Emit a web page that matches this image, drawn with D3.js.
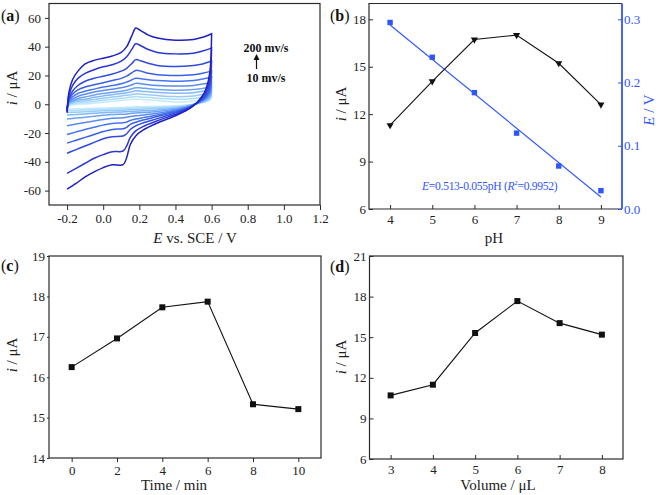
<!DOCTYPE html>
<html><head><meta charset="utf-8">
<script src="https://cdn.jsdelivr.net/npm/d3@7"></script>
<style>
html,body{margin:0;padding:0;background:#fff;}
svg{display:block;font-family:"Liberation Serif","Times New Roman",serif;}
</style></head>
<body>
<svg id="chart" width="661" height="495"></svg>
<script>
// ---------- DATA ----------
// (a) cyclic voltammograms at different scan rates
const scanRates = [10, 20, 40, 60, 80, 100, 120, 140, 160, 180, 200];
const cvForwardE = [-0.2, -0.19, -0.17, -0.14, -0.1, -0.05, 0, 0.05, 0.1, 0.13, 0.16, 0.18, 0.21, 0.25, 0.3, 0.4, 0.5, 0.55, 0.6];
const cvReverseE = [0.6, 0.59, 0.57, 0.55, 0.5, 0.45, 0.4, 0.3, 0.22, 0.18, 0.15, 0.13, 0.11, 0.05, 0, -0.05, -0.1, -0.15, -0.2];
const cvForward = [
  [-2, -1, -0.5, 0, 0.2, 0.8, 1.4, 2, 2.7, 3, 3.4, 3.6, 3.4, 3.1, 2.6, 1.6, 2.2, 3.5, 5],
  [-2.5, -0.5, 0.3, 1, 1.2, 2, 2.8, 3.4, 4.1, 4.5, 5, 5.3, 5.1, 4.7, 4.2, 3.4, 4, 5, 6.5],
  [-3, 0, 1, 2, 2.3, 3.3, 4.2, 5, 5.7, 6.2, 6.8, 7.2, 7, 6.6, 6, 5.3, 5.8, 6.8, 8],
  [-3, 0.5, 1.8, 3, 3.4, 4.8, 5.8, 6.6, 7.5, 8, 8.7, 9.3, 9.1, 8.7, 8.2, 7.6, 8, 9, 10],
  [-3.5, 1, 2.5, 4, 5, 6.5, 7.5, 8.3, 9.1, 9.8, 10.8, 11.5, 11.3, 10.8, 10.3, 9.8, 10.2, 11, 12],
  [-4, 1.5, 3.5, 5.5, 7, 8.5, 9.5, 10.5, 11.4, 12.3, 13.5, 14.5, 14.2, 13.5, 13, 12.6, 13, 14, 15],
  [-4, 2, 5, 7.5, 9, 10.5, 12, 13, 14.2, 15.5, 17, 18, 17.7, 17, 16.5, 16, 16.5, 17.5, 19],
  [-4.5, 3, 7, 10, 12, 13.5, 15, 16.5, 18, 19.5, 22, 23.5, 23, 21.5, 20.5, 20, 20.5, 21.5, 23],
  [-5, 4, 9, 13, 16, 18, 19.5, 21, 23, 25, 28.5, 31, 30, 28.5, 27, 26.3, 27, 28, 30],
  [-5, 6, 13, 18, 21.5, 24, 26, 27.5, 30, 33, 38.5, 42, 40.5, 38, 36, 35, 35.5, 37, 39],
  [-6, 8, 17, 23, 28, 30.5, 32, 33.5, 36, 40, 48, 53, 51, 48, 46, 44.5, 45, 46.5, 49]
];
const cvReverse = [
  [5, 3, 1.7, 1, 0, -0.7, -1.1, -1.5, -1.7, -1.8, -2, -2.1, -2.2, -2.4, -2.6, -2.8, -3, -3.2, -3.5],
  [6.5, 3.5, 2, 1.3, 0, -1, -1.6, -2.2, -2.5, -2.6, -2.8, -3, -3.1, -3.3, -3.5, -3.8, -4, -4.3, -4.5],
  [8, 4, 2.5, 1.6, -0.1, -1.4, -2.1, -3, -3.4, -3.6, -3.8, -4, -4.1, -4.3, -4.6, -4.9, -5.2, -5.5, -5.8],
  [10, 5, 3, 1.9, -0.2, -1.8, -2.7, -4, -4.6, -4.8, -5, -5.2, -5.3, -5.5, -5.9, -6.3, -6.7, -7.1, -7.5],
  [12, 6, 3.6, 2.2, -0.3, -2.2, -3.3, -5, -5.8, -6.1, -6.4, -6.7, -6.9, -7.2, -7.7, -8.3, -9, -9.6, -10.3],
  [15, 7.5, 4.2, 2.6, -0.4, -2.6, -4, -6.3, -7.5, -8, -8.5, -9, -9.3, -9.8, -10.6, -11.6, -12.7, -13.8, -15],
  [19, 9, 5, 3, -0.5, -3, -4.6, -7.5, -9.3, -10.3, -11.3, -12.3, -12.8, -13.3, -14.5, -16, -17.5, -19.2, -21],
  [23, 11, 6, 3.5, -0.6, -3.5, -5.3, -8.5, -11, -12.5, -14, -16, -17, -17.5, -19, -21, -23, -25, -27],
  [30, 14, 7, 4, -0.8, -4, -6, -10, -13, -15, -17.5, -20.5, -22, -22.5, -24, -26.5, -29, -31.5, -34],
  [39, 18, 9, 5, -1, -4.5, -7, -11.5, -15.5, -18.5, -23, -29, -32.5, -33, -35, -37.5, -41, -44.5, -48],
  [49, 22, 11, 6, -1, -5, -8, -13, -18, -22, -28, -37, -42, -42, -44, -47, -50.5, -55, -59]
];
const cvColors = ["#c4eafc", "#aedcfb", "#98cbf9", "#83b8f7", "#6ea2f5", "#5a8bf2", "#4874ee", "#3a5fe8", "#3049e0", "#2a36d5", "#1f20c2"];
const aXTicks = [-0.2, 0, 0.2, 0.4, 0.6, 0.8, 1.0, 1.2];
const aYTicks = [-60, -40, -20, 0, 20, 40, 60];

// (b) effect of pH
const pH = [4, 5, 6, 7, 8, 9];
const pHCurrent = [11.3, 14.08, 16.72, 17.0, 15.22, 12.6];
const pHPotential = [0.295, 0.240, 0.184, 0.120, 0.068, 0.029];
const fitPH = [4, 9];
const fitE = [0.291, 0.019];
const bYTicks = [6, 9, 12, 15, 18];
const bY2Ticks = [0.0, 0.1, 0.2, 0.3];

// (c) accumulation time
const times = [0, 2, 4, 6, 8, 10];
const timeCurrent = [16.25, 16.96, 17.73, 17.87, 15.33, 15.21];
const cXTicks = [0, 2, 4, 6, 8, 10];
const cYTicks = [14, 15, 16, 17, 18, 19];

// (d) modifier volume
const volumes = [3, 4, 5, 6, 7, 8];
const volumeCurrent = [10.70, 11.49, 15.31, 17.67, 16.04, 15.19];
const dYTicks = [6, 9, 12, 15, 18, 21];

// ---------- DRAWING ----------
const svg = d3.select("#chart");
svg.append("rect").attr("width", 661).attr("height", 495).attr("fill", "#fff");
const FONT = 13;
const frameColor = "#2a2a2a";
const blue = "#2f55ff";

function fmt1(d){ return d.toFixed(1); }
function fmtI(d){ return String(d); }

function frame(x0, x1, y0, y1){
  svg.append("rect").attr("x", x0).attr("y", y0).attr("width", x1 - x0).attr("height", y1 - y0)
    .attr("fill", "none").attr("stroke", frameColor).attr("stroke-width", 1.2);
}
function styleAxis(g, color){
  g.select(".domain").remove();
  g.selectAll(".tick line").attr("stroke", color || frameColor).attr("stroke-width", 1);
  g.selectAll(".tick text").attr("font-size", FONT).attr("fill", color || "#222")
    .attr("font-family", "Liberation Serif, Times New Roman, serif");
}
function yTitle(x, y, parts, color){
  const t = svg.append("text").attr("transform", `translate(${x},${y}) rotate(-90)`)
    .attr("text-anchor", "middle").attr("font-size", 15).attr("fill", color || "#222");
  parts.forEach(p => t.append("tspan").attr("font-style", p[1] ? "italic" : "normal").text(p[0]));
}
function xTitle(x, y, parts){
  const t = svg.append("text").attr("x", x).attr("y", y).attr("text-anchor", "middle")
    .attr("font-size", 15).attr("fill", "#222");
  parts.forEach(p => t.append("tspan").attr("font-style", p[1] ? "italic" : "normal").text(p[0]));
}
function panelLabel(x, y, letter){
  const t = svg.append("text").attr("x", x).attr("y", y).attr("font-size", 16).attr("fill", "#111");
  t.append("tspan").text("(");
  t.append("tspan").attr("font-weight", "bold").text(letter);
  t.append("tspan").text(")");
}

// ----- Panel (a) -----
{
  const L = 49, R = 320, T = 3.5, B = 205;
  const x = d3.scaleLinear().domain([-0.3, 1.2]).range([L, R]);
  const y = d3.scaleLinear().domain([-70, 70]).range([B, T]);
  const line = d3.line().x(d => x(d[0])).y(d => y(d[1])).curve(d3.curveCatmullRom.alpha(0.5));
  scanRates.forEach((r, i) => {
    const pts = cvForwardE.map((e, j) => [e, cvForward[i][j]])
      .concat(cvReverseE.map((e, j) => [e, cvReverse[i][j]]));
    svg.append("path").datum(pts).attr("d", line).attr("fill", "none")
      .attr("stroke", cvColors[i]).attr("stroke-width", 1.5);
  });
  frame(L, R, T, B);
  const gx = svg.append("g").attr("transform", `translate(0,${B})`)
    .call(d3.axisBottom(x).tickValues(aXTicks).tickFormat(fmt1).tickSize(5).tickPadding(4));
  styleAxis(gx);
  const gy = svg.append("g").attr("transform", `translate(${L},0)`)
    .call(d3.axisLeft(y).tickValues(aYTicks).tickFormat(fmtI).tickSize(4).tickPadding(4));
  styleAxis(gy);
  xTitle(195, 243, [["E", true], [" vs. SCE / V", false]]);
  yTitle(17, 88, [["i", true], [" / μA", false]]);
  panelLabel(1, 21, "a");
  // annotation
  svg.append("text").attr("x", 266).attr("y", 52).attr("text-anchor", "middle")
    .attr("font-size", 12).attr("font-weight", "bold").attr("fill", "#111").text("200 mv/s");
  svg.append("text").attr("x", 266).attr("y", 82).attr("text-anchor", "middle")
    .attr("font-size", 12).attr("font-weight", "bold").attr("fill", "#111").text("10 mv/s");
  svg.append("line").attr("x1", 256.5).attr("x2", 256.5).attr("y1", 69).attr("y2", 59)
    .attr("stroke", "#111").attr("stroke-width", 1.2);
  svg.append("path").attr("d", "M253.5,60 L256.5,54 L259.5,60 Z").attr("fill", "#111");
}

// ----- Panel (b) -----
{
  const L = 369, R = 622, T = 3.5, B = 209;
  const x = d3.scaleLinear().domain([3.5, 9.5]).range([L, R]);
  const y = d3.scaleLinear().domain([6, 19]).range([B, T]);
  const y2 = d3.scaleLinear().domain([0, 0.325]).range([B, T]);
  // frame (left, top, bottom black; right blue)
  svg.append("path").attr("d", `M${R},${T} L${L},${T} L${L},${B} L${R},${B}`)
    .attr("fill", "none").attr("stroke", frameColor).attr("stroke-width", 1.2);
  svg.append("line").attr("x1", R).attr("x2", R).attr("y1", T).attr("y2", B)
    .attr("stroke", blue).attr("stroke-width", 1.8);
  // fit line
  const fl = d3.line().x((d, i) => x(d)).y((d, i) => y2(fitE[i]));
  svg.append("path").datum(fitPH).attr("d", fl).attr("fill", "none").attr("stroke", blue).attr("stroke-width", 1.1);
  // blue squares
  svg.selectAll(".bsq").data(pH).enter().append("rect")
    .attr("x", (d) => x(d) - 2.7).attr("y", (d, i) => y2(pHPotential[i]) - 2.7)
    .attr("width", 5.4).attr("height", 5.4).attr("fill", blue);
  // black line + down triangles
  const bl = d3.line().x(d => x(d)).y((d, i) => y(pHCurrent[i]));
  svg.append("path").datum(pH).attr("d", bl).attr("fill", "none").attr("stroke", "#111").attr("stroke-width", 1.1);
  const tri = d3.symbol().type(d3.symbolTriangle).size(22);
  svg.selectAll(".btri").data(pH).enter().append("path").attr("d", tri)
    .attr("transform", (d, i) => `translate(${x(d)},${y(pHCurrent[i])}) rotate(180)`).attr("fill", "#111");

  const gx = svg.append("g").attr("transform", `translate(0,${B})`)
    .call(d3.axisBottom(x).tickValues(pH).tickFormat(fmtI).tickSize(-4).tickPadding(6));
  styleAxis(gx);
  const gy = svg.append("g").attr("transform", `translate(${L},0)`)
    .call(d3.axisLeft(y).tickValues(bYTicks).tickFormat(fmtI).tickSize(-4).tickPadding(3));
  styleAxis(gy);
  const gy2 = svg.append("g").attr("transform", `translate(${R},0)`)
    .call(d3.axisRight(y2).tickValues(bY2Ticks).tickFormat(fmt1).tickSize(-4).tickPadding(2));
  styleAxis(gy2, blue);
  xTitle(494, 243, [["pH", false]]);
  yTitle(346, 104, [["i", true], [" / μA", false]]);
  yTitle(654, 110, [["E", true], [" / V", false]], blue);
  panelLabel(330, 21, "b");
  const eq = svg.append("text").attr("x", 422).attr("y", 190).attr("font-size", 11.6).attr("fill", blue)
    .attr("letter-spacing", -0.3);
  eq.append("tspan").attr("font-style", "italic").text("E");
  eq.append("tspan").text("=0.513-0.055pH (");
  eq.append("tspan").attr("font-style", "italic").text("R");
  eq.append("tspan").attr("font-size", 7).attr("dy", -5).text("2");
  eq.append("tspan").attr("dy", 5).text("=0.9952)");
}

// ----- Panel (c) -----
{
  const L = 49, R = 321, T = 256, B = 458;
  const x = d3.scaleLinear().domain([-1, 11]).range([L, R]);
  const y = d3.scaleLinear().domain([14, 19]).range([B, T]);
  frame(L, R, T, B);
  const ln = d3.line().x(d => x(d)).y((d, i) => y(timeCurrent[i]));
  svg.append("path").datum(times).attr("d", ln).attr("fill", "none").attr("stroke", "#111").attr("stroke-width", 1.1);
  svg.selectAll(".csq").data(times).enter().append("rect")
    .attr("x", d => x(d) - 3).attr("y", (d, i) => y(timeCurrent[i]) - 3)
    .attr("width", 6).attr("height", 6).attr("fill", "#111");
  const gx = svg.append("g").attr("transform", `translate(0,${B})`)
    .call(d3.axisBottom(x).tickValues(cXTicks).tickFormat(fmtI).tickSize(4).tickPadding(4));
  styleAxis(gx);
  const gy = svg.append("g").attr("transform", `translate(${L},0)`)
    .call(d3.axisLeft(y).tickValues(cYTicks).tickFormat(fmtI).tickSize(2).tickPadding(2));
  styleAxis(gy);
  xTitle(174, 490, [["Time / min", false]]);
  yTitle(17, 355, [["i", true], [" / μA", false]]);
  panelLabel(1, 271, "c");
}

// ----- Panel (d) -----
{
  const L = 369.5, R = 623, T = 256, B = 459;
  const x = d3.scaleLinear().domain([2.5, 8.5]).range([L, R]);
  const y = d3.scaleLinear().domain([6, 21]).range([B, T]);
  frame(L, R, T, B);
  const ln = d3.line().x(d => x(d)).y((d, i) => y(volumeCurrent[i]));
  svg.append("path").datum(volumes).attr("d", ln).attr("fill", "none").attr("stroke", "#111").attr("stroke-width", 1.1);
  svg.selectAll(".dsq").data(volumes).enter().append("rect")
    .attr("x", d => x(d) - 3).attr("y", (d, i) => y(volumeCurrent[i]) - 3)
    .attr("width", 6).attr("height", 6).attr("fill", "#111");
  const gx = svg.append("g").attr("transform", `translate(0,${B})`)
    .call(d3.axisBottom(x).tickValues(volumes).tickFormat(fmtI).tickSize(-4).tickPadding(6));
  styleAxis(gx);
  const gy = svg.append("g").attr("transform", `translate(${L},0)`)
    .call(d3.axisLeft(y).tickValues(dYTicks).tickFormat(fmtI).tickSize(-4).tickPadding(3));
  styleAxis(gy);
  xTitle(498, 490, [["Volume / μL", false]]);
  yTitle(346, 357, [["i", true], [" / μA", false]]);
  panelLabel(330, 272, "d");
}
</script>
</body></html>
